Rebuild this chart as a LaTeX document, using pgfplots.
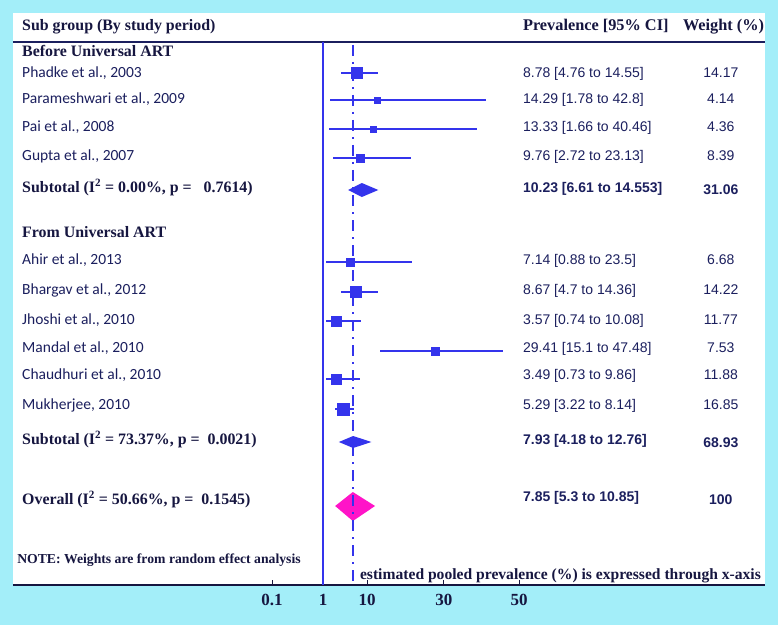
\documentclass[border=0pt]{standalone}
\usepackage{fontspec}
\setmainfont{Liberation Serif}
\newfontfamily\calfont{Carlito}
\newfontfamily\narfont{Liberation Sans}
\usepackage{pgfplots}
\usepackage{pgfplotstable}
\pgfplotsset{compat=1.18}

\definecolor{bg}{HTML}{A3EEF9}
\definecolor{navy}{HTML}{1B1F5E}
\definecolor{dark}{HTML}{161640}
\definecolor{fblue}{HTML}{3434EC}
\definecolor{fmag}{HTML}{FF14C8}

% y = row position (pixels from top, negated), est / lo / hi = prevalence (%), w = weight (%)
\pgfplotstableread{
y    est   lo    hi    w
-73  8.78  4.76  14.55 14.17
-100 14.29 1.78  42.8  4.14
-129 13.33 1.66  40.46 4.36
-158 9.76  2.72  23.13 8.39
-262 7.14  0.88  23.5  6.68
-292 8.67  4.7   14.36 14.22
-321 3.57  0.74  10.08 11.77
-351 29.41 15.1  47.48 7.53
-379 3.49  0.73  9.86  11.88
-409 5.29  3.22  8.14  16.85
}\studies

\newcommand{\hd}{\bfseries\fontsize{15.9}{17}\selectfont}
\newcommand{\rh}{\bfseries\fontsize{16.3}{17}\selectfont}
\newcommand{\nm}{\calfont\fontsize{15.5}{17}\selectfont}
\newcommand{\vl}{\narfont\fontsize{14}{16}\selectfont}
\tikzset{lt/.style={anchor=west, inner xsep=0pt, text height=1.6ex, text depth=.3ex}}
\newcommand{\study}[4]{%
  \node[lt, font=\nm, text=navy] at (axis cs:-79.2,#1) {#2};
  \node[lt, font=\vl, text=navy] at (axis cs:52.6,#1) {#3};
  \node[font=\vl, text=navy, text height=1.6ex, text depth=.3ex] at (axis cs:104.7,#1) {#4};
}

\begin{document}
\begin{tikzpicture}
\fill[bg] (-13pt,-40pt) rectangle (765pt,585pt);
\begin{axis}[
  scale only axis,
  width=752pt, height=572pt,
  xmin=-81.58, xmax=116.32,
  ymin=-585, ymax=-13,
  axis background/.style={fill=white},
  axis x line=bottom,
  axis y line=none,
  x axis line style={-, draw=dark, line width=1.8pt},
  xtick={-13.4,0,11.6,31.8,51.6},
  xticklabels={0.1,1,10,30,50},
  xtick align=inside,
  major tick length=5pt,
  xtick style={draw=dark, line width=0.8pt},
  xticklabel style={font=\bfseries\fontsize{17}{17}\selectfont, text=dark, yshift=-6pt},
  clip=false,
]
% header
\node[lt, font=\hd, text=dark] at (axis cs:-79.2,-28) {Sub group (By study period)};
\node[lt, font=\rh, text=dark] at (axis cs:52.6,-28) {Prevalence [95\% CI]};
\node[lt, font=\rh, text=dark] at (axis cs:94.7,-28) {Weight (\%)};
\draw[navy, line width=1.6pt] (axis cs:-81.58,-42) -- (axis cs:116.32,-42);

% reference line
\addplot[fblue, line width=1.5pt] coordinates {(0,-42) (0,-585)};

% group 1
\node[lt, font=\hd, text=dark] at (axis cs:-79.2,-54) {Before Universal ART};
\study{-75}{Phadke et al., 2003}{8.78 [4.76 to 14.55]}{14.17}
\study{-101}{Parameshwari et al., 2009}{14.29 [1.78 to 42.8]}{4.14}
\study{-129}{Pai et al., 2008}{13.33 [1.66 to 40.46]}{4.36}
\study{-158}{Gupta et al., 2007}{9.76 [2.72 to 23.13]}{8.39}
\node[lt, font=\hd, text=dark] at (axis cs:-79.2,-190) {Subtotal (I\textsuperscript{2} = 0.00\%, p =\ \ \ 0.7614)};
\node[lt, font=\vl\bfseries, text=navy] at (axis cs:52.6,-190) {10.23 [6.61 to 14.553]};
\node[font=\vl\bfseries, text=navy] at (axis cs:104.7,-190) {31.06};

% group 2
\node[lt, font=\hd, text=dark] at (axis cs:-79.2,-235) {From Universal ART};
\study{-262}{Ahir et al., 2013}{7.14 [0.88 to 23.5]}{6.68}
\study{-292}{Bhargav et al., 2012}{8.67 [4.7 to 14.36]}{14.22}
\study{-322}{Jhoshi et al., 2010}{3.57 [0.74 to 10.08]}{11.77}
\study{-350}{Mandal et al., 2010}{29.41 [15.1 to 47.48]}{7.53}
\study{-377}{Chaudhuri et al., 2010}{3.49 [0.73 to 9.86]}{11.88}
\study{-407}{Mukherjee, 2010}{5.29 [3.22 to 8.14]}{16.85}
\node[lt, font=\hd, text=dark] at (axis cs:-79.2,-442) {Subtotal (I\textsuperscript{2} = 73.37\%, p =\ \ 0.0021)};
\node[lt, font=\vl\bfseries, text=navy] at (axis cs:52.6,-442) {7.93 [4.18 to 12.76]};
\node[font=\vl\bfseries, text=navy] at (axis cs:104.7,-443) {68.93};

% overall
\node[lt, font=\hd, text=dark] at (axis cs:-79.2,-502) {Overall (I\textsuperscript{2} = 50.66\%, p =\ \ 0.1545)};
\node[lt, font=\vl\bfseries, text=navy] at (axis cs:52.6,-499) {7.85 [5.3 to 10.85]};
\node[font=\vl\bfseries, text=navy] at (axis cs:104.7,-500) {100};

% study estimates with CIs
\addplot[scatter, only marks, mark=square*,
  scatter/use mapped color={draw=fblue, fill=fblue},
  visualization depends on={1.45*sqrt(\thisrow{w}) \as \msz},
  scatter/@pre marker code/.append style={/tikz/mark size=\msz},
  error bars/.cd, x dir=both, x explicit, error mark=none,
  error bar style={fblue, line width=1.4pt}]
  table[x=est, y=y,
    x error minus expr=\thisrow{est}-\thisrow{lo},
    x error plus expr=\thisrow{hi}-\thisrow{est}] {\studies};

% pooled diamonds
\addplot[fill=fblue, draw=none] coordinates {(6.61,-190) (10.23,-183) (14.55,-190) (10.23,-197) (6.61,-190)};
\addplot[fill=fblue, draw=none] coordinates {(4.18,-442) (7.93,-436) (12.76,-442) (7.93,-448) (4.18,-442)};
\addplot[fill=fmag, draw=none] coordinates {(3.2,-506) (7.85,-492) (13.7,-506) (7.85,-521) (3.2,-506)};

% pooled estimate line
\addplot[fblue, line width=2pt, dash pattern=on 11pt off 6pt on 2pt off 6pt] coordinates {(7.85,-45) (7.85,-585)};

\node[lt, font=\bfseries\fontsize{13.7}{15}\selectfont, text=dark] at (axis cs:-80.5,-561) {NOTE: Weights are from random effect analysis};
\node[lt, font=\bfseries\fontsize{15.6}{16}\selectfont, text=dark] at (axis cs:9.7,-577) {estimated pooled prevalence (\%) is expressed through x-axis};
\end{axis}
\pgfresetboundingbox
\path (-13pt,-40pt) rectangle (765pt,585pt);
\end{tikzpicture}
\end{document}
